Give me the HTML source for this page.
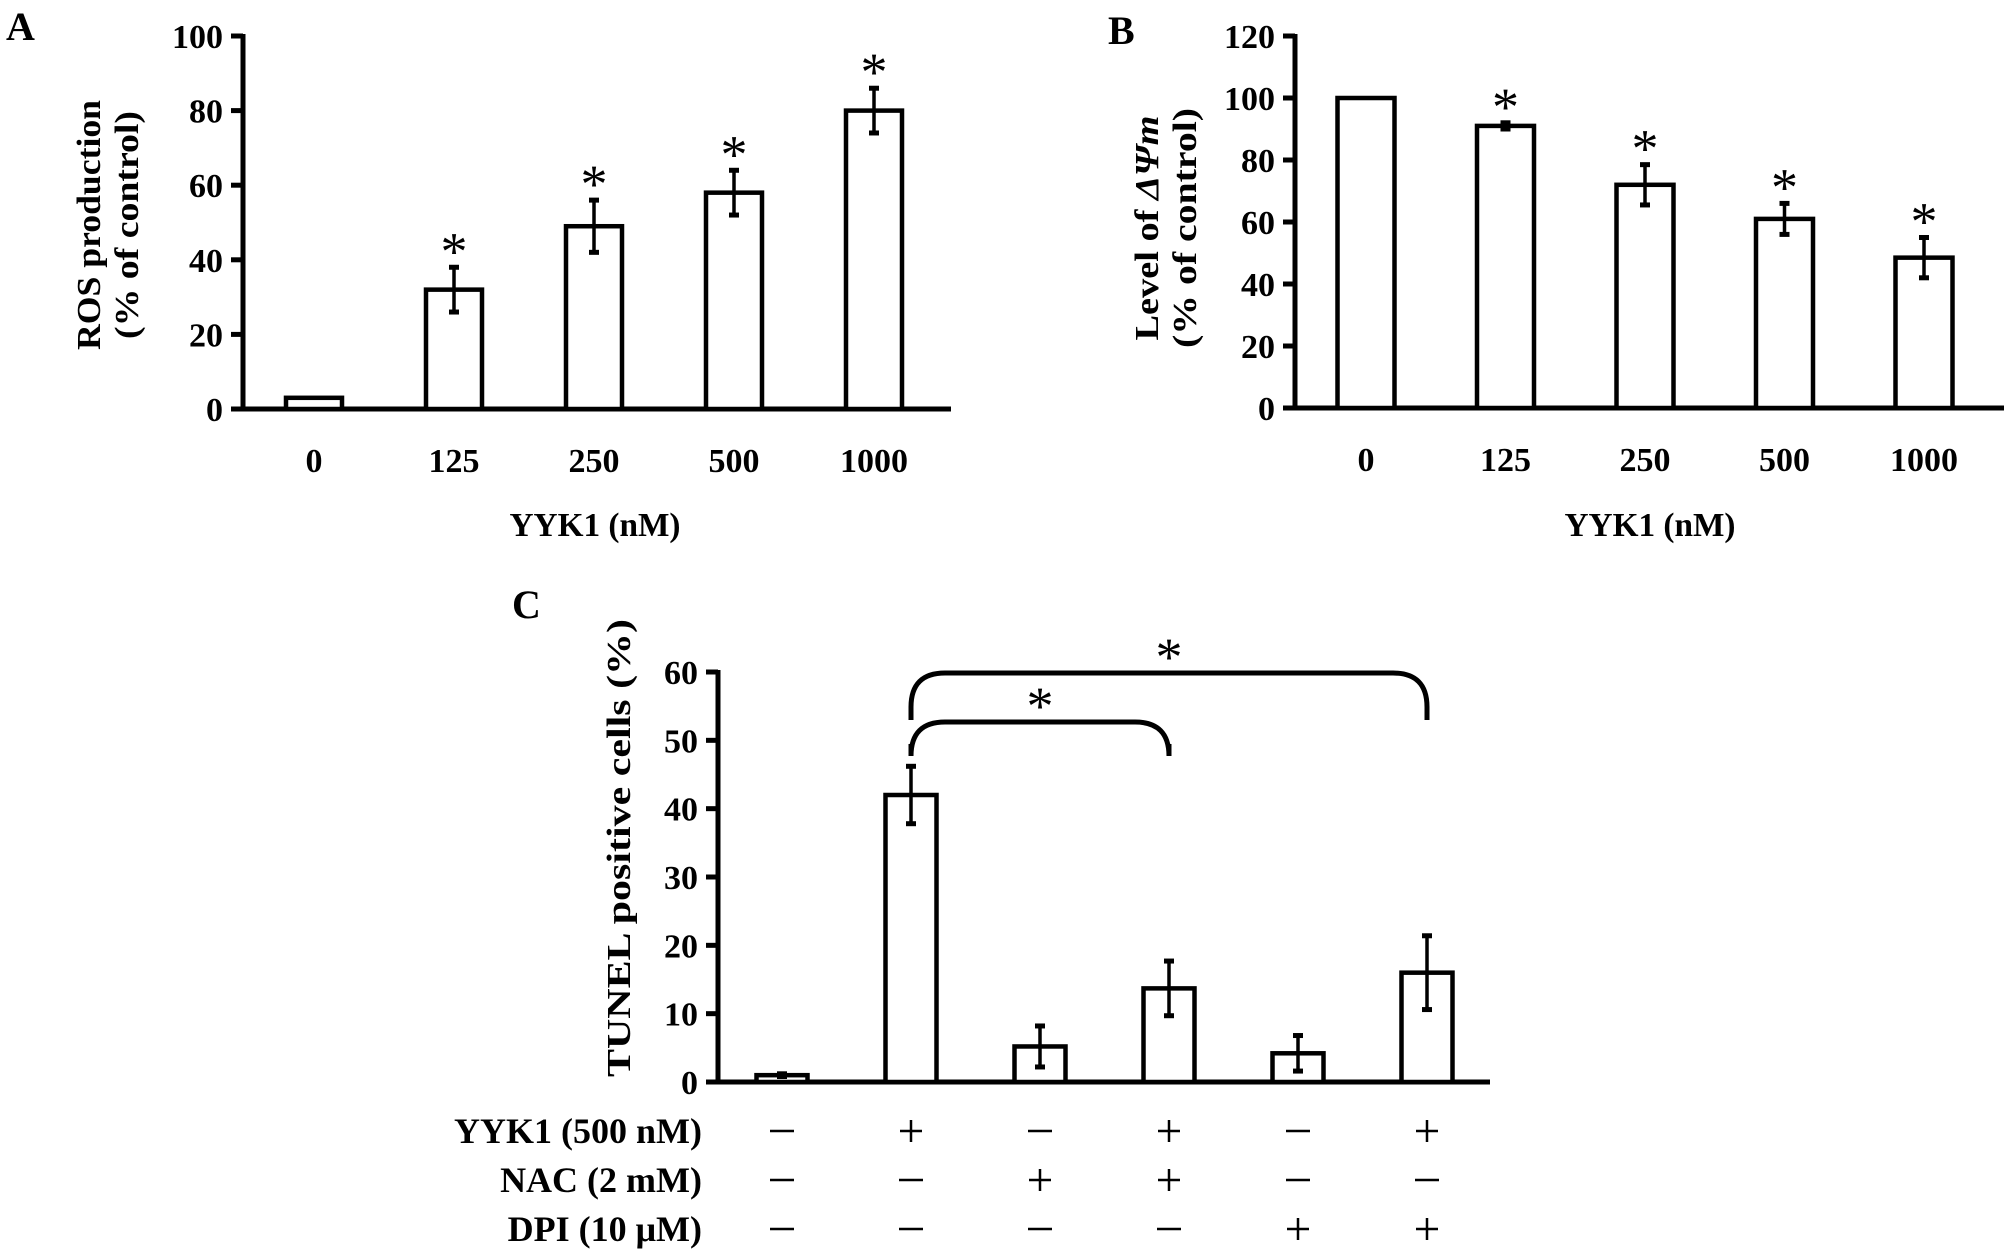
<!DOCTYPE html>
<html><head><meta charset="utf-8">
<style>
html,body{margin:0;padding:0;background:#fff;}
svg{display:block;font-family:"Liberation Serif","Times New Roman",serif;font-weight:bold;}
</style></head>
<body>
<svg id="fig" width="2008" height="1254" viewBox="0 0 2008 1254" xmlns="http://www.w3.org/2000/svg">
<text x="6" y="40" font-size="40">A</text>
<text x="1108" y="44" font-size="40">B</text>
<text x="512" y="618" font-size="40">C</text>
</svg>
<script>
// Panel A data
const catsA = ["0","125","250","500","1000"];
const valsA = [3, 32, 49, 58, 80];
const errA = [0, 6, 7, 6, 6];
const sigA = [false, true, true, true, true];
const ticksA = [0, 20, 40, 60, 80, 100];
// Panel B data
const catsB = ["0","125","250","500","1000"];
const valsB = [100, 91, 72, 61, 48.5];
const errB = [0, 1, 6.5, 5, 6.5];
const sigB = [false, true, true, true, true];
const ticksB = [0, 20, 40, 60, 80, 100, 120];
// Panel C data
const valsC = [1, 42, 5.2, 13.7, 4.2, 16];
const errC = [0.2, 4.2, 3, 4, 2.6, 5.4];
const ticksC = [0, 10, 20, 30, 40, 50, 60];
const rowLabelsC = ["YYK1 (500 nM)", "NAC (2 mM)", "DPI (10 \u03bcM)"];
const rowYYK1 = ["-","+","-","+","-","+"];
const rowNAC = ["-","-","+","+","-","-"];
const rowDPI = ["-","-","-","-","+","+"];

const NS = "http://www.w3.org/2000/svg";
const svg = document.getElementById("fig");
function mk(tag, attrs, parent){
  const e = document.createElementNS(NS, tag);
  for (const k in attrs) e.setAttribute(k, attrs[k]);
  (parent || svg).appendChild(e);
  return e;
}
function line(x1,y1,x2,y2,w,name){
  const e = mk("line",{x1:x1,y1:y1,x2:x2,y2:y2,stroke:"#000","stroke-width":w});
  
  
  return e;
}
function txt(s,x,y,size,anchor,name,extra){
  const e = mk("text",{x:x,y:y,"font-size":size,"text-anchor":anchor||"middle"});
  if (extra) for (const k in extra) e.setAttribute(k, extra[k]);
  e.textContent = s;
  
  
  return e;
}

function panel(o){
  const yScale = v => o.y0 - (v - o.min) / (o.max - o.min) * (o.y0 - o.yTop);
  const xScale = i => o.x0 + i * o.step;
  line(o.axisX, o.yTop - 2, o.axisX, o.y0 + 2.5, 5, o.p + "-y-axis");
  line(o.axisX - 2.5, o.y0, o.xEnd, o.y0, 5, o.p + "-x-axis");
  o.ticks.forEach(t => {
    const y = yScale(t);
    line(o.axisX - 12, y, o.axisX, y, 5, o.p + "-y-tick");
    txt(String(t), o.axisX - 20, y + 12, 34, "end", o.p + "-y-tick-label");
  });
  o.vals.forEach((v, i) => {
    const cx = xScale(i), y = yScale(v);
    const r = mk("rect",{x:cx - o.bw/2, y:y, width:o.bw, height:o.y0 - y, fill:"#fff", stroke:"#000", "stroke-width":4.5});
    
    
    const e = o.errs[i];
    if (e > 0) {
      const t = yScale(v + e), b = yScale(v - e);
      line(cx, t, cx, b, 3.5, o.p + "-error-bar");
      line(cx - 5, t, cx + 5, t, 5, o.p + "-error-cap");
      line(cx - 5, b, cx + 5, b, 5, o.p + "-error-cap");
    }
    if (o.sig && o.sig[i]) {
      const t = yScale(v + e);
      txt("*", cx, t + 2, 54, "middle", o.p + "-significance-star", {"font-weight":"normal"});
    }
    if (o.cats) txt(o.cats[i], cx, o.y0 + 63, 34, "middle", o.p + "-x-tick-label");
  });
  return {xScale, yScale};
}

const A = panel({p:"a", axisX:243, yTop:36, y0:409, min:0, max:100, xEnd:951, x0:314, step:140, bw:56,
  ticks:ticksA, vals:valsA, errs:errA, sig:sigA, cats:catsA});
txt("YYK1 (nM)", 595, 536, 34, "middle", "a-x-axis-title", {textLength:171, lengthAdjust:"spacingAndGlyphs"});
txt("ROS production", 0, 0, 34, "middle", "a-y-axis-title", {transform:"translate(100,225) rotate(-90)", textLength:250, lengthAdjust:"spacingAndGlyphs"});
txt("(% of control)", 0, 0, 34, "middle", "a-y-axis-title-unit", {transform:"translate(138,225) rotate(-90)", textLength:228, lengthAdjust:"spacingAndGlyphs"});

const B = panel({p:"b", axisX:1295, yTop:36, y0:408, min:0, max:120, xEnd:2004, x0:1366, step:139.5, bw:57,
  ticks:ticksB, vals:valsB, errs:errB, sig:sigB, cats:catsB});
txt("YYK1 (nM)", 1650, 536, 34, "middle", "b-x-axis-title", {textLength:171, lengthAdjust:"spacingAndGlyphs"});
(function(){
  const t = txt("", 0, 0, 34, "middle", "b-y-axis-title", {transform:"translate(1158,228) rotate(-90)", textLength:225, lengthAdjust:"spacingAndGlyphs"});
  t.appendChild(document.createTextNode("Level of "));
  const ts = mk("tspan",{"font-style":"italic"}, t);
  ts.textContent = "\u0394\u03a8m";
})();
txt("(% of control)", 0, 0, 34, "middle", "b-y-axis-title-unit", {transform:"translate(1196,228) rotate(-90)", textLength:240, lengthAdjust:"spacingAndGlyphs"});

const C = panel({p:"c", axisX:718, yTop:672, y0:1082, min:0, max:60, xEnd:1490, x0:782, step:129, bw:51,
  ticks:ticksC, vals:valsC, errs:errC, sig:null, cats:null});
txt("TUNEL positive cells (%)", 0, 0, 34, "middle", "c-y-axis-title", {transform:"translate(630,848) rotate(-90)", textLength:458, lengthAdjust:"spacingAndGlyphs"});

function bracket(i1, i2, topY, botY, name){
  const x1 = C.xScale(i1), x2 = C.xScale(i2), r = 34;
  const d = `M${x1},${botY} L${x1},${topY + r} Q${x1},${topY} ${x1 + r},${topY} L${x2 - r},${topY} Q${x2},${topY} ${x2},${topY + r} L${x2},${botY}`;
  const p = mk("path",{d:d, fill:"none", stroke:"#000", "stroke-width":5});
  
  
  txt("*", (x1 + x2) / 2, topY + 2, 54, "middle", name + "-star", {"font-weight":"normal"});
}
bracket(1, 5, 673, 720, "c-bracket-dpi");
bracket(1, 3, 722, 744, "c-bracket-nac");

const rows = [rowYYK1, rowNAC, rowDPI];
const rowY = [1131, 1180, 1229];
rows.forEach((row, r) => {
  txt(rowLabelsC[r], 702, rowY[r] + 12, 36, "end", "c-row-label-" + r);
  row.forEach((s, i) => {
    const x = C.xScale(i);
    if (s === "+") {
      line(x - 11, rowY[r], x + 11, rowY[r], 2.5, "c-plus-sign");
      line(x, rowY[r] - 11, x, rowY[r] + 11, 2.5, "c-plus-sign");
    } else {
      line(x - 12, rowY[r], x + 12, rowY[r], 2.5, "c-minus-sign");
    }
  });
});
</script>
</body></html>
